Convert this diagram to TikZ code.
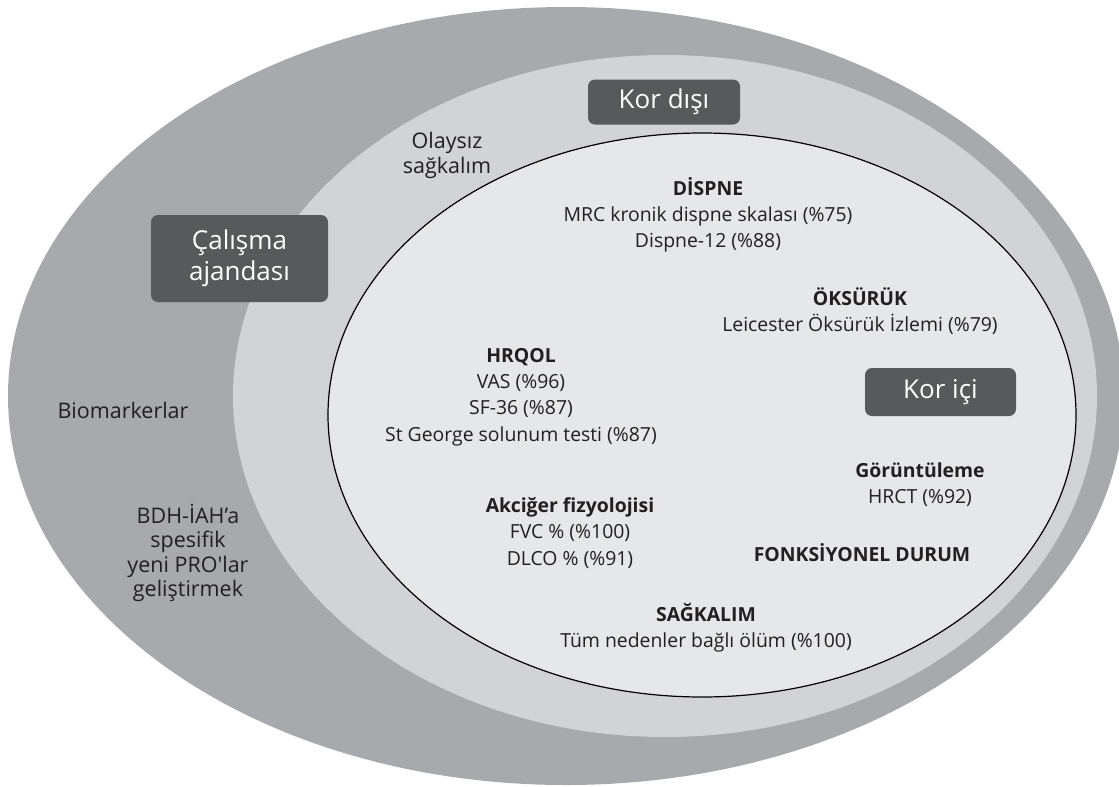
\documentclass[tikz,border=0pt]{standalone}
\usepackage{fontspec}
\setmainfont{Open Sans}
\usepackage{tikz}
\usetikzlibrary{positioning}

\definecolor{outergray}{HTML}{A7A9AC}
\definecolor{midgray}{HTML}{D1D3D4}
\definecolor{innergray}{HTML}{E6E7E8}
\definecolor{boxgray}{HTML}{58595B}
\definecolor{inktext}{HTML}{231F20}

\begin{document}
\begin{tikzpicture}[
    x=1pt, y=-1pt,
    tag/.style={rectangle, rounded corners=7pt, fill=boxgray, text=white, align=center, inner sep=0pt, font=\fontsize{26}{31}\selectfont},
    measure/.style={align=center, inner sep=0pt, text=inktext, font=\fontsize{19.4}{26.2}\selectfont},
    outerlbl/.style={align=center, inner sep=0pt, text=inktext, font=\fontsize{21.5}{24.6}\selectfont}
]
\useasboundingbox (0,0) rectangle (1119,787);

% Zones
\fill[outergray] (566,396) ellipse [x radius=558, y radius=389];
\fill[midgray] (665,396) ellipse [x radius=432, y radius=341];
\filldraw[fill=innergray, draw=black, line width=1.2pt] (702,415) ellipse [x radius=374, y radius=282];

% Tags
\node[tag, minimum width=152pt, minimum height=45pt] (outside) at (664,102) {Kor dışı};
\node[tag, minimum width=177pt, minimum height=87pt] (agenda) at (239.5,258.5) {Çalışma\\ajandası};
\node[tag, minimum width=151pt, minimum height=48pt] (inside) at (940.5,392) {Kor içi};

% Core outcomes
\node[measure] (dyspnea) at (708,215) {\textbf{DİSPNE}\\MRC kronik dispne skalası (\%75)\\Dispne-12 (\%88)};
\node[measure] (cough) at (860,311) {\textbf{ÖKSÜRÜK}\\Leicester Öksürük İzlemi (\%79)};
\node[measure] (hrqol) at (521,397) {\textbf{HRQOL}\\VAS (\%96)\\SF-36 (\%87)\\St George solunum testi (\%87)};
\node[measure] (imaging) at (920,484.5) {\textbf{Görüntüleme}\\HRCT (\%92)};
\node[measure] (lungphys) at (570,533) {\textbf{Akciğer fizyolojisi}\\FVC \% (\%100)\\DLCO \% (\%91)};
\node[measure] (functional) at (862,553) {\textbf{FONKSİYONEL DURUM}};
\node[measure] (survival) at (706,628) {\textbf{SAĞKALIM}\\Tüm nedenler bağlı ölüm (\%100)};

% Outside the core
\node[outerlbl] (eventfree) at (447,155.5) {Olaysız\\sağkalım};
\node[outerlbl] (biomarkers) at (123,410) {Biomarkerlar};
\node[outerlbl] (newpros) at (188,553) {BDH-İAH’a\\spesifik\\yeni PRO\textquotesingle lar\\geliştirmek};

\end{tikzpicture}
\end{document}
